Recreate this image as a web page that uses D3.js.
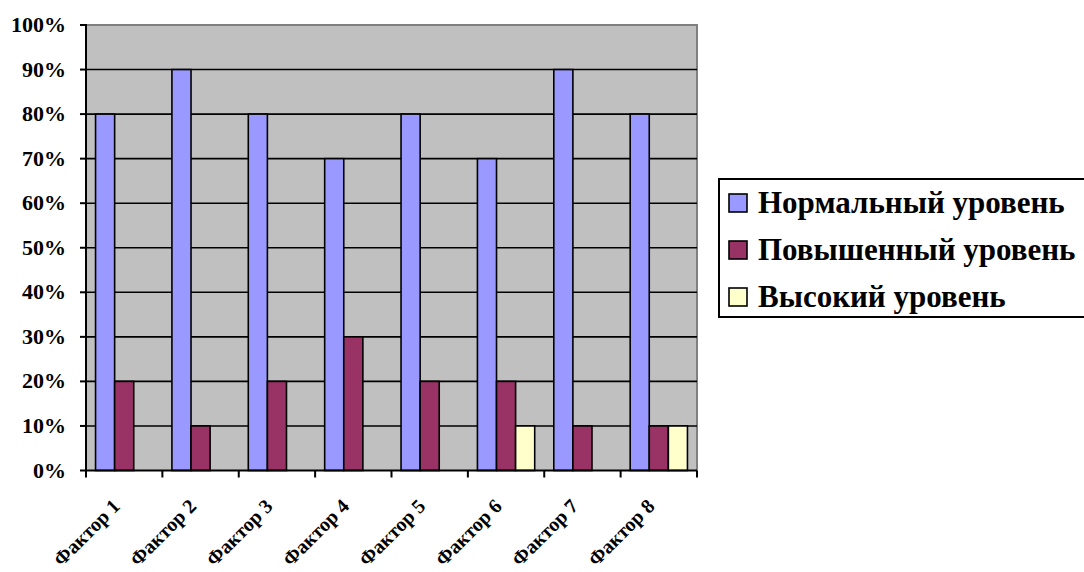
<!DOCTYPE html>
<html><head><meta charset="utf-8">
<script src="https://cdn.jsdelivr.net/npm/d3@7/dist/d3.min.js"></script>
<style>
body{margin:0;background:#fff}
.srf{font-family:"Times New Roman","Liberation Serif",Tinos,FreeSerif;font-weight:700}
</style>
</head><body>
<svg id="c" width="1084" height="572"></svg>
<script>
const categories = ["Фактор 1","Фактор 2","Фактор 3","Фактор 4","Фактор 5","Фактор 6","Фактор 7","Фактор 8"];
const seriesNames = ["Нормальный уровень","Повышенный уровень","Высокий уровень"];
const normal   = [80, 90, 80, 70, 80, 70, 90, 80];
const elevated = [20, 10, 20, 30, 20, 20, 10, 10];
const high     = [0, 0, 0, 0, 0, 10, 0, 10];
const yTicks = [0,10,20,30,40,50,60,70,80,90,100];
const colors = ["#9999FF","#993366","#FFFFCC"];

const seriesValues = [normal, elevated, high];
const svg = d3.select("#c");
const L = 86, R = 697, T = 25, B = 470.5;

function serif(sel, size) {
  return sel.attr("class", "srf").attr("font-family", "Times New Roman").attr("font-weight", "bold").style("font-size", size + "px");
}

const x0 = d3.scaleBand().domain(categories).range([L, R]).padding(0);
const x1 = d3.scaleBand().domain(seriesNames).range([0, x0.bandwidth()]).paddingInner(0).paddingOuter(0.5);
const y = d3.scaleLinear().domain([0, 100]).range([B, T]);

svg.append("rect").attr("x", L).attr("y", T).attr("width", R - L).attr("height", B - T).attr("fill", "#C0C0C0");
svg.append("path").attr("d", `M${L},${T}H${R}V${B}`).attr("fill", "none").attr("stroke", "#808080").attr("stroke-width", 2);

svg.append("g").selectAll("line").data(yTicks.filter(d => d > 0 && d < 100)).join("line")
  .attr("x1", L).attr("x2", R).attr("y1", d => y(d)).attr("y2", d => y(d))
  .attr("stroke", "#000").attr("stroke-width", 1.6);

const rows = [];
categories.forEach((c, i) => seriesNames.forEach((s, j) => {
  if (seriesValues[j][i] > 0) rows.push({c, s, v: seriesValues[j][i], col: colors[j]});
}));
svg.append("g").selectAll("rect").data(rows).join("rect")
  .attr("x", d => x0(d.c) + x1(d.s))
  .attr("y", d => y(d.v))
  .attr("width", x1.bandwidth())
  .attr("height", d => y(0) - y(d.v))
  .attr("fill", d => d.col)
  .attr("stroke", "#000").attr("stroke-width", 1.6);

const gy = svg.append("g");
gy.append("path").attr("d", `M${L - 6},${T}H${L}V${B}`).attr("fill", "none").attr("stroke", "#000").attr("stroke-width", 2);
gy.selectAll("line").data(yTicks).join("line")
  .attr("x1", L - 6).attr("x2", L).attr("y1", d => y(d)).attr("y2", d => y(d))
  .attr("stroke", "#000").attr("stroke-width", 2);
serif(svg.selectAll("text.yl").data(yTicks).join("text")
  .attr("x", L - 20).attr("y", d => y(d) + 7).attr("text-anchor", "end")
  .text(d => d + "%"), 22);

const xTickPos = d3.range(categories.length + 1).map(i => L + i * x0.bandwidth());
svg.append("line").attr("x1", L).attr("x2", R).attr("y1", B).attr("y2", B).attr("stroke", "#000").attr("stroke-width", 2);
svg.append("g").selectAll("line").data(xTickPos).join("line")
  .attr("x1", d => d).attr("x2", d => d).attr("y1", B).attr("y2", B + 7)
  .attr("stroke", "#000").attr("stroke-width", 2);
serif(svg.append("g").selectAll("text").data(categories).join("text")
  .attr("transform", d => `translate(${x0(d) + x0.bandwidth() / 2 - 3},${B + 37}) rotate(-45)`)
  .attr("text-anchor", "end")
  .text(d => d), 20);

svg.append("rect").attr("x", 719).attr("y", 179).attr("width", 380).attr("height", 138)
  .attr("fill", "#fff").attr("stroke", "#000").attr("stroke-width", 2);
const ly = [203, 250, 297];
svg.append("g").selectAll("rect").data(seriesNames).join("rect")
  .attr("x", 729).attr("y", (d, i) => ly[i] - 9).attr("width", 18).attr("height", 18)
  .attr("fill", (d, i) => colors[i]).attr("stroke", "#000").attr("stroke-width", 1.6);
serif(svg.append("g").selectAll("text").data(seriesNames).join("text")
  .attr("x", 758).attr("y", (d, i) => ly[i] + 10)
  .text(d => d), 31);
</script>
</body></html>
